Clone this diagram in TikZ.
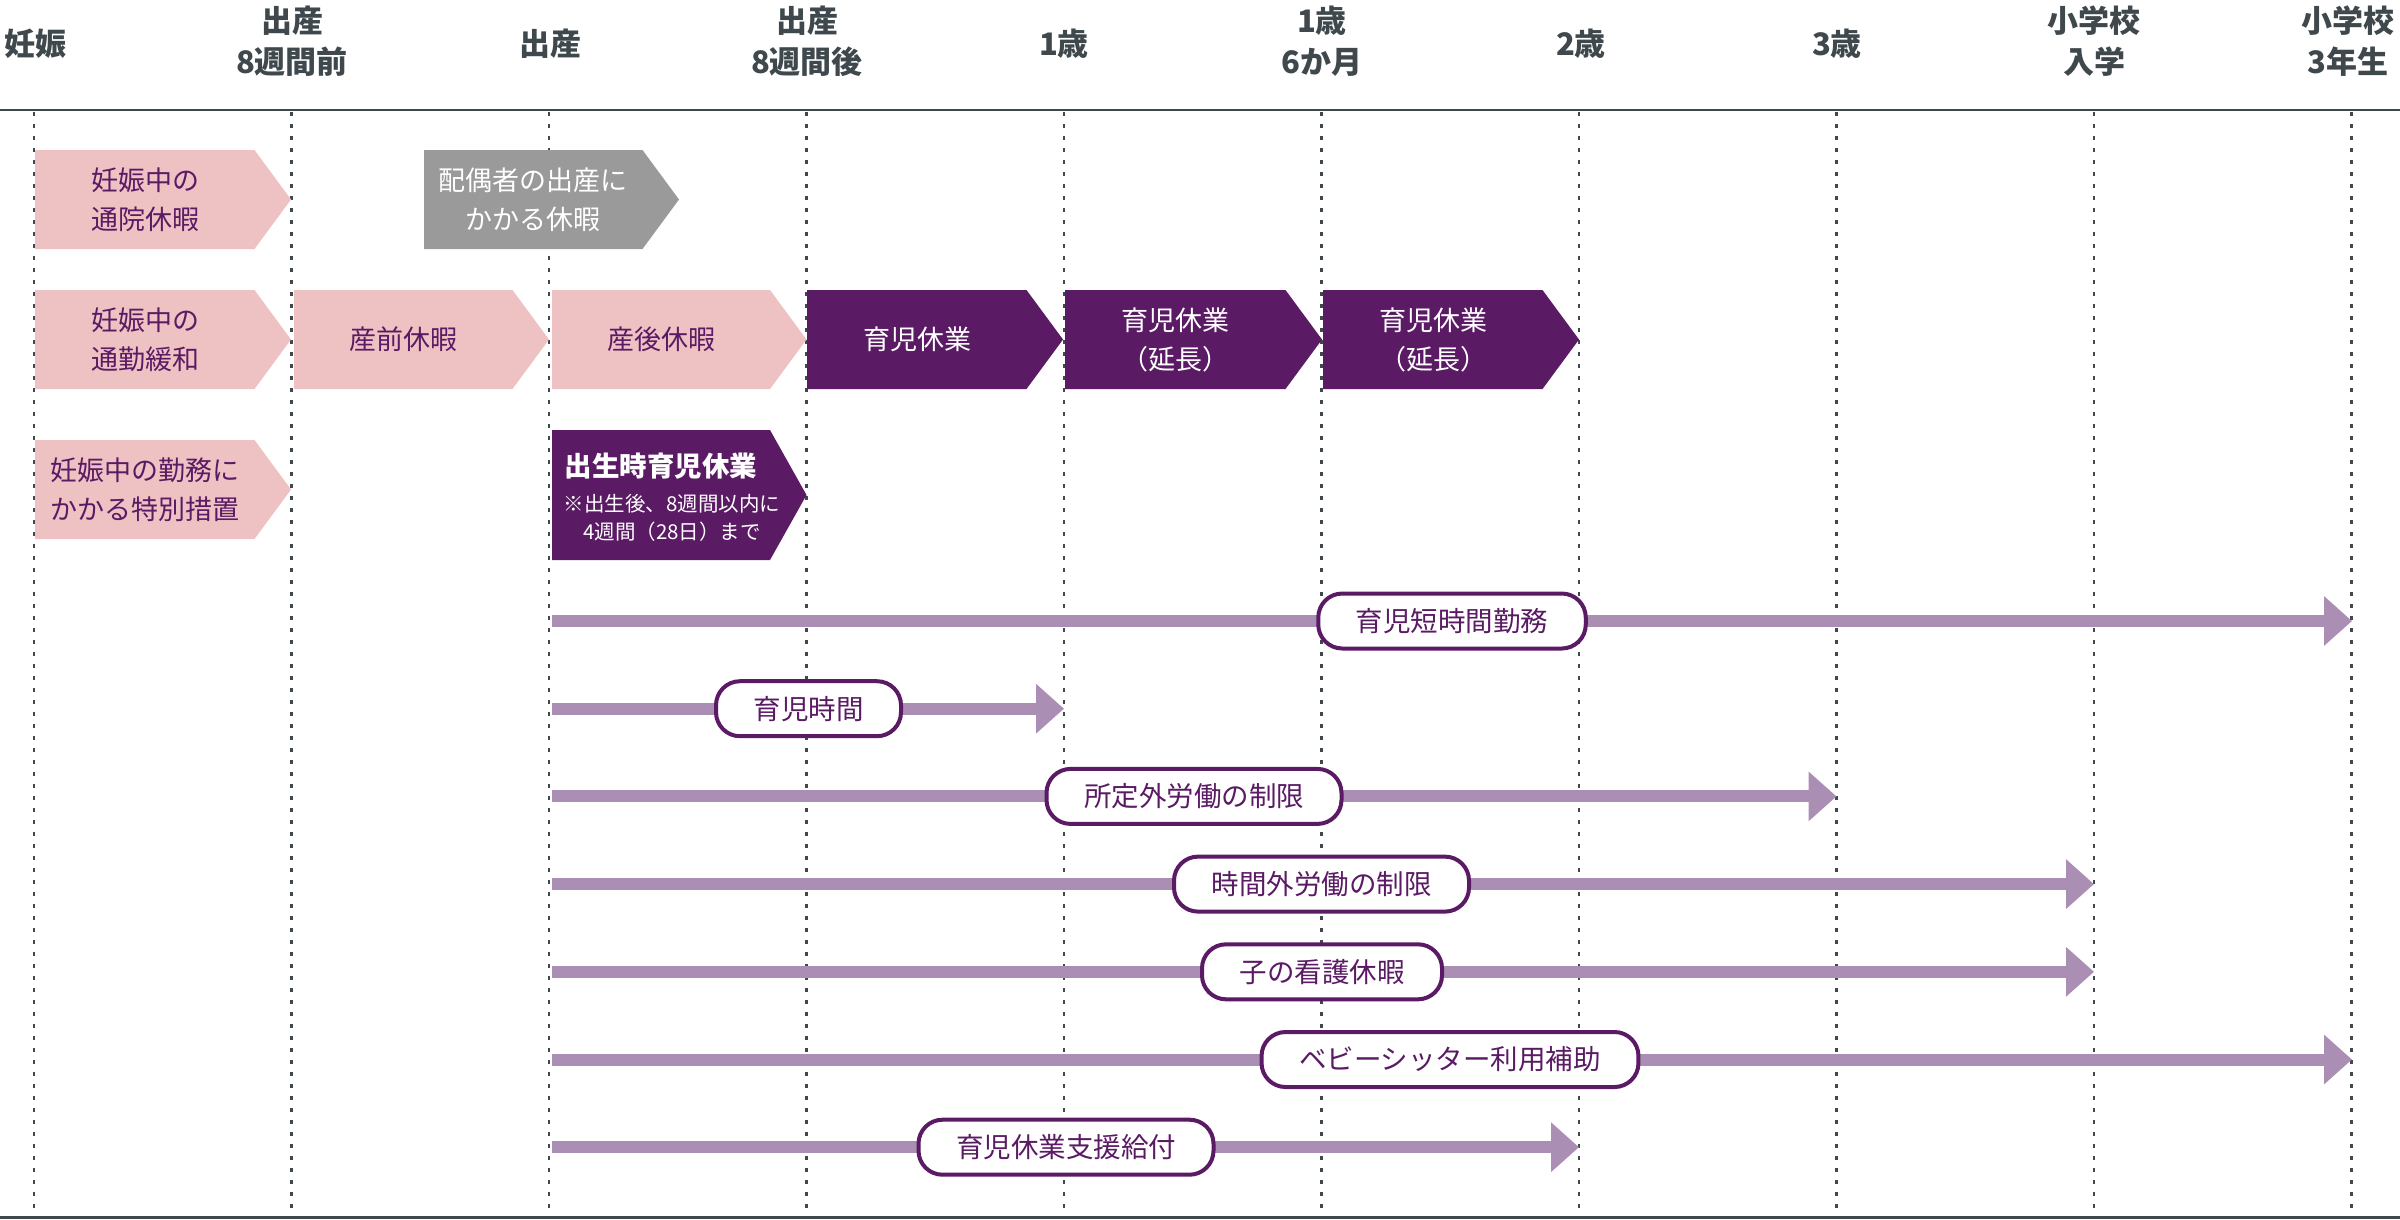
\documentclass[tikz,border=0pt]{standalone}
\usepackage{fontspec}
\setmainfont{Noto Sans CJK JP}
\usetikzlibrary{arrows.meta}
\definecolor{hdrc}{HTML}{3F484C}
\definecolor{pinkf}{HTML}{EEC1C3}
\definecolor{purp}{HTML}{5A1A64}
\definecolor{grayf}{HTML}{9A9A9A}
\definecolor{lpurp}{HTML}{AB8EB4}
\newcommand\chevfill[5]{\fill[#5] (#1,#3) -- ({#2-36.5},#3) -- (#2,{(#3+#4)/2}) -- ({#2-36.5},#4) -- (#1,#4) -- cycle;}
\begin{document}
\begin{tikzpicture}[x=1pt,y=-1pt,
  hdr/.style={text=hdrc, font=\fontsize{31}{41}\selectfont\bfseries, align=center, inner sep=0pt},
  ctext/.style={font=\fontsize{27}{39}\selectfont, align=center, inner sep=0pt},
  pinktext/.style={ctext, text=purp},
  whitetext/.style={ctext, text=white},
  vguide/.style={draw=hdrc, line width=2.2pt, dash pattern=on 4pt off 8pt},
  flowbar/.style={draw=lpurp, line width=12pt, -{Triangle[length=28pt,width=48pt]}},
  labelbox/.style={draw=purp, line width=4pt, fill=white, rounded corners=24pt, minimum height=55pt, inner xsep=37.5pt, inner ysep=0pt, text=purp, font=\fontsize{27.5}{30}\selectfont},
]
\useasboundingbox (0,0) rectangle (2400,1219);
% header
\node[hdr] (h0) at (36,44) {妊娠};
\node[hdr] (h1) at (292,41) {出産\\8週間前};
\node[hdr] (h2) at (550,44) {出産};
\node[hdr] (h3) at (807,41) {出産\\8週間後};
\node[hdr] (h4) at (1064,44) {1歳};
\node[hdr] (h5) at (1322,41) {1歳\\6か月};
\node[hdr] (h6) at (1581,44) {2歳};
\node[hdr] (h7) at (1837,44) {3歳};
\node[hdr] (h8) at (2094,41) {小学校\\入学};
\node[hdr] (h9) at (2348,41) {小学校\\3年生};
\coordinate (topL) at (0,110);
\coordinate (topR) at (2400,110);
\draw[hdrc, line width=2.5pt] (topL) -- (topR);
\coordinate (botL) at (0,1217.5);
\coordinate (botR) at (2400,1217.5);
\draw[hdrc, line width=3pt] (botL) -- (botR);
\foreach \i in {0,...,9} {
  \coordinate (g\i) at ({34+257.5*\i},112);
  \draw[vguide] (g\i) -- ++(0,1104);
}
% row 1
\chevfill{35}{291}{150}{249}{pinkf}
\node[pinktext] (tuuin) at (145,199.5) {妊娠中の\\通院休暇};
\chevfill{424}{679}{150}{249}{grayf}
\node[whitetext] (haigu) at (533,199.5) {配偶者の出産に\\かかる休暇};
% row 2
\chevfill{35}{291}{290}{389}{pinkf}
\node[pinktext] (tsukin) at (145,339.5) {妊娠中の\\通勤緩和};
\chevfill{294}{549}{290}{389}{pinkf}
\node[pinktext] (sanzen) at (403,339.5) {産前休暇};
\chevfill{552}{806.5}{290}{389}{pinkf}
\node[pinktext] (sango) at (661,339.5) {産後休暇};
\chevfill{807}{1063}{290}{389}{purp}
\node[whitetext] (ikukyu1) at (917,339.5) {育児休業};
\chevfill{1065}{1322}{290}{389}{purp}
\node[whitetext] (ikukyu2) at (1175,339.5) {育児休業\\（延長）};
\chevfill{1323}{1579}{290}{389}{purp}
\node[whitetext] (ikukyu3) at (1433,339.5) {育児休業\\（延長）};
% row 3
\chevfill{35}{291}{440}{539}{pinkf}
\node[pinktext] (tokubetsu) at (145,489.5) {妊娠中の勤務に\\かかる特別措置};
\chevfill{552}{806.5}{430}{560}{purp}
\node[text=white, font=\fontsize{27.5}{30}\selectfont\bfseries, inner sep=0pt] (shussei) at (661,466) {出生時育児休業};
\node[text=white, font=\fontsize{20.5}{28.5}\selectfont, align=center, inner sep=0pt] (shusseinote) at (672,518) {※出生後、8週間以内に\\4週間（28日）まで};
% arrows
\coordinate (a1s) at (552,621);    \coordinate (a1e) at (2352,621);
\coordinate (a2s) at (552,708.7);  \coordinate (a2e) at (1064,708.7);
\coordinate (a3s) at (552,796.4);  \coordinate (a3e) at (1836.5,796.4);
\coordinate (a4s) at (552,884.1);  \coordinate (a4e) at (2094,884.1);
\coordinate (a5s) at (552,971.8);  \coordinate (a5e) at (2094,971.8);
\coordinate (a6s) at (552,1059.5); \coordinate (a6e) at (2352,1059.5);
\coordinate (a7s) at (552,1147.2); \coordinate (a7e) at (1579,1147.2);
\draw[flowbar] (a1s) -- (a1e);
\draw[flowbar] (a2s) -- (a2e);
\draw[flowbar] (a3s) -- (a3e);
\draw[flowbar] (a4s) -- (a4e);
\draw[flowbar] (a5s) -- (a5e);
\draw[flowbar] (a6s) -- (a6e);
\draw[flowbar] (a7s) -- (a7e);
\node[labelbox] (l1) at (1452,621) {育児短時間勤務};
\node[labelbox] (l2) at (808.5,708.7) {育児時間};
\node[labelbox] (l3) at (1194,796.4) {所定外労働の制限};
\node[labelbox] (l4) at (1321.5,884.1) {時間外労働の制限};
\node[labelbox] (l5) at (1322,971.8) {子の看護休暇};
\node[labelbox] (l6) at (1450,1059.5) {ベビーシッター利用補助};
\node[labelbox] (l7) at (1066,1147.2) {育児休業支援給付};
\end{tikzpicture}
\end{document}
